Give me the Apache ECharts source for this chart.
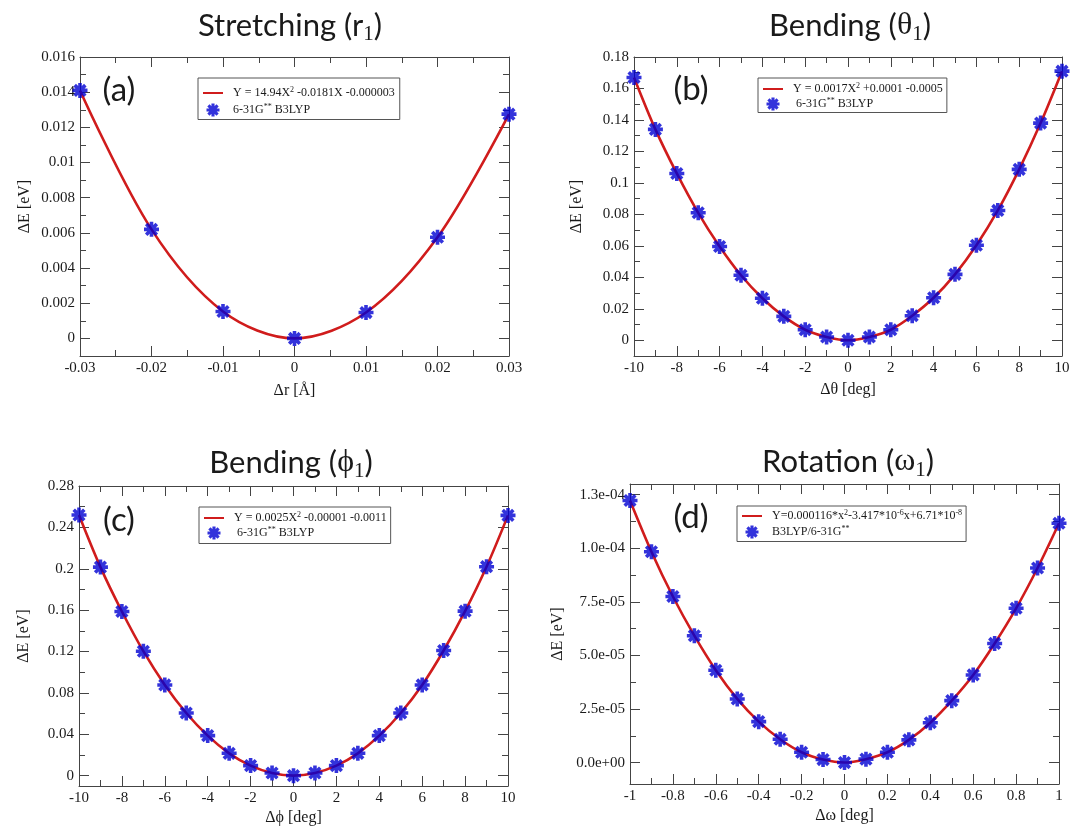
<!DOCTYPE html>
<html><head><meta charset="utf-8">
<script src="https://cdn.jsdelivr.net/npm/echarts@6/dist/echarts.min.js"></script>
<style>html,body{margin:0;padding:0;background:#fff}#c{width:1073px;height:830px}</style>
</head><body><div id="c"></div>
<script>
// ---------- DATA ----------
// (a) Stretching r1
const xA = [-0.03, -0.02, -0.01, 0, 0.01, 0.02, 0.03];
const yA = [0.0141, 0.0062, 0.00153, 0, 0.00147, 0.00575, 0.01275];
const xTicksA = [-0.03, -0.02, -0.01, 0, 0.01, 0.02, 0.03];
const xLabelsA = ['-0.03', '-0.02', '-0.01', '0', '0.01', '0.02', '0.03'];
const xMinorA = [-0.025, -0.015, -0.005, 0.005, 0.015, 0.025];
const yTicksA = [0, 0.002, 0.004, 0.006, 0.008, 0.01, 0.012, 0.014, 0.016];
const yLabelsA = ['0', '0.002', '0.004', '0.006', '0.008', '0.01', '0.012', '0.014', '0.016'];
const yMinorA = [0.001, 0.003, 0.005, 0.007, 0.009, 0.011, 0.013, 0.015];

// (b) Bending theta1
const xB = [-10, -9, -8, -7, -6, -5, -4, -3, -2, -1, 0, 1, 2, 3, 4, 5, 6, 7, 8, 9, 10];
const yB = [0.167, 0.134, 0.106, 0.081, 0.0596, 0.0413, 0.0267, 0.0152, 0.0067, 0.0021, 0,
            0.0021, 0.0067, 0.0156, 0.027, 0.0419, 0.0604, 0.0825, 0.1086, 0.138, 0.171];
const xTicksDeg = [-10, -8, -6, -4, -2, 0, 2, 4, 6, 8, 10];
const xLabelsDeg = ['-10', '-8', '-6', '-4', '-2', '0', '2', '4', '6', '8', '10'];
const xMinorDeg = [-9, -7, -5, -3, -1, 1, 3, 5, 7, 9];
const yTicksB = [0, 0.02, 0.04, 0.06, 0.08, 0.1, 0.12, 0.14, 0.16, 0.18];
const yLabelsB = ['0', '0.02', '0.04', '0.06', '0.08', '0.1', '0.12', '0.14', '0.16', '0.18'];
const yMinorB = [0.01, 0.03, 0.05, 0.07, 0.09, 0.11, 0.13, 0.15, 0.17];

// (c) Bending phi1
const xC = [-10, -9, -8, -7, -6, -5, -4, -3, -2, -1, 0, 1, 2, 3, 4, 5, 6, 7, 8, 9, 10];
const yC = [0.252, 0.2016, 0.1587, 0.1203, 0.0877, 0.0606, 0.0387, 0.0216, 0.0097, 0.0026, 0,
            0.0026, 0.0097, 0.0216, 0.0387, 0.0606, 0.0877, 0.121, 0.159, 0.202, 0.2516];
const yTicksC = [0, 0.04, 0.08, 0.12, 0.16, 0.2, 0.24, 0.28];
const yLabelsC = ['0', '0.04', '0.08', '0.12', '0.16', '0.2', '0.24', '0.28'];
const yMinorC = [0.02, 0.06, 0.1, 0.14, 0.18, 0.22, 0.26];

// (d) Rotation omega1
const xD = [-1, -0.9, -0.8, -0.7, -0.6, -0.5, -0.4, -0.3, -0.2, -0.1, 0, 0.1, 0.2, 0.3, 0.4, 0.5, 0.6, 0.7, 0.8, 0.9, 1];
const yD = [1.223e-4, 9.84e-5, 7.75e-5, 5.92e-5, 4.31e-5, 2.97e-5, 1.91e-5, 1.09e-5, 4.8e-6, 1.4e-6, 0,
            1.6e-6, 4.8e-6, 1.06e-5, 1.86e-5, 2.89e-5, 4.09e-5, 5.56e-5, 7.2e-5, 9.08e-5, 1.117e-4];
const xTicksD = [-1, -0.8, -0.6, -0.4, -0.2, 0, 0.2, 0.4, 0.6, 0.8, 1];
const xLabelsD = ['-1', '-0.8', '-0.6', '-0.4', '-0.2', '0', '0.2', '0.4', '0.6', '0.8', '1'];
const xMinorD = [-0.9, -0.7, -0.5, -0.3, -0.1, 0.1, 0.3, 0.5, 0.7, 0.9];
const yTicksD = [0, 2.5e-5, 5e-5, 7.5e-5, 1e-4, 1.25e-4];
const yLabelsD = ['0.0e+00', '2.5e-05', '5.0e-05', '7.5e-05', '1.0e-04', '1.3e-04'];
const yMinorD = [1.25e-5, 3.75e-5, 6.25e-5, 8.75e-5, 1.125e-4];

// ---------- STYLE ----------
const SERIF = "'Liberation Serif', 'DejaVu Serif', serif";
const SANS = "Lato, 'Open Sans', sans-serif";
const AXC = '#444';
const TXT = '#1a1a1a';
const RED = '#d01c1c';
const BLUE = '#0000d2';
const STAR = 'path://M-1,-0.24L1,-0.24L1,0.24L-1,0.24Z M-0.24,-1L0.24,-1L0.24,1L-0.24,1Z M-0.537,-0.877L0.877,0.537L0.537,0.877L-0.877,-0.537Z M-0.877,0.537L0.537,-0.877L0.877,-0.537L-0.537,0.877Z';

const panels = [
  { grid: {left: 80, top: 57, width: 429, height: 299},
    x: {min: -0.03, max: 0.03, major: xTicksA, labels: xLabelsA, minor: xMinorA, name: 'Δr [Å]', nameGap: 27},
    y: {min: -0.001, max: 0.016, major: yTicksA, labels: yLabelsA, minor: yMinorA, name: 'ΔE [eV]', nameGap: 47},
    xs: xA, ys: yA, fitName: 'fitA', ptName: 'ptsA',
    fitText: '{n|Y = 14.94X}{sup|2}{n| -0.0181X -0.000003}', ptText: '{n|6-31G}{sup|**}{n| B3LYP}',
    legend: {left: 198, top: 78, padding: [8, 5, 3, 4], itemGap: 4},
    title: {x: 290, y: 26, text: '{t|Stretching (r}{s|1}{t|)}'}, letter: {x: 119, y: 90, text: '(a)'} },
  { grid: {left: 634, top: 57, width: 428, height: 299},
    x: {min: -10, max: 10, major: xTicksDeg, labels: xLabelsDeg, minor: xMinorDeg, name: 'Δθ [deg]', nameGap: 26},
    y: {min: -0.01, max: 0.18, major: yTicksB, labels: yLabelsB, minor: yMinorB, name: 'ΔE [eV]', nameGap: 49},
    xs: xB, ys: yB, fitName: 'fitB', ptName: 'ptsB',
    fitText: '{n|Y = 0.0017X}{sup|2}{n| +0.0001 -0.0005}', ptText: '{np|6-31G}{sup|**}{n| B3LYP}',
    legend: {left: 758, top: 78, padding: [4, 4, 2, 4], itemGap: 2},
    title: {x: 850, y: 26, text: '{t|Bending (}{g|θ}{s|1}{t|)}'}, letter: {x: 691, y: 89, text: '(b)'} },
  { grid: {left: 79, top: 486, width: 429, height: 300},
    x: {min: -10, max: 10, major: xTicksDeg, labels: xLabelsDeg, minor: xMinorDeg, name: 'Δϕ [deg]', nameGap: 24},
    y: {min: -0.01, max: 0.28, major: yTicksC, labels: yLabelsC, minor: yMinorC, name: 'ΔE [eV]', nameGap: 47},
    xs: xC, ys: yC, fitName: 'fitC', ptName: 'ptsC',
    fitText: '{n|Y = 0.0025X}{sup|2}{n| -0.00001 -0.0011}', ptText: '{np|6-31G}{sup|**}{n| B3LYP}',
    legend: {left: 199, top: 507, padding: [4, 4, 4, 4], itemGap: 2},
    title: {x: 291, y: 463, text: '{t|Bending (}{g|ϕ}{s|1}{t|)}'}, letter: {x: 119, y: 520, text: '(c)'} },
  { grid: {left: 630, top: 484, width: 429, height: 300},
    x: {min: -1, max: 1, major: xTicksD, labels: xLabelsD, minor: xMinorD, name: 'Δω [deg]', nameGap: 24},
    y: {min: -1e-5, max: 1.3e-4, major: yTicksD, labels: yLabelsD, minor: yMinorD, name: 'ΔE [eV]', nameGap: 64},
    xs: xD, ys: yD, fitName: 'fitD', ptName: 'ptsD',
    fitText: '{n|Y=0.000116*x}{sup|2}{n|-3.417*10}{sup|-6}{n|x+6.71*10}{sup|-8}', ptText: '{n|B3LYP/6-31G}{sup|**}',
    legend: {left: 737, top: 506, padding: [3, 4, 3, 4], itemGap: 3},
    title: {x: 848, y: 462, text: '{t|Rotation (}{g|ω}{s|1}{t|)}'}, letter: {x: 691, y: 517, text: '(d)'} }
];

function makeAxes(dim, gi, a) {
  const pos = dim === 'x' ? ['bottom', 'top'] : ['left', 'right'];
  const tol = (a.max - a.min) * 1e-6;
  const fmt = v => { const k = a.major.findIndex(m => Math.abs(m - v) <= tol); return k >= 0 ? a.labels[k] : ''; };
  const common = {type: 'value', gridIndex: gi, min: a.min, max: a.max,
    splitLine: {show: false}, splitArea: {show: false}, minorTick: {show: false}, silent: true};
  const line = {show: true, onZero: false, lineStyle: {color: AXC, width: 1}};
  const noLine = {show: false, onZero: false};
  const tick = (vals, len) => ({show: true, inside: true, length: len, customValues: vals, lineStyle: {color: AXC, width: 1}});
  return [
    Object.assign({}, common, {position: pos[0], axisLine: line, axisTick: tick(a.major, 10),
      axisLabel: {show: true, customValues: a.major, formatter: fmt, margin: 5, fontFamily: SERIF, fontSize: 15, color: TXT},
      name: a.name, nameLocation: 'middle', nameGap: a.nameGap,
      nameTextStyle: {fontFamily: SERIF, fontSize: 16, color: TXT}}),
    Object.assign({}, common, {position: pos[0], axisLine: noLine, axisTick: tick(a.minor, 6), axisLabel: {show: false}}),
    Object.assign({}, common, {position: pos[1], axisLine: line, axisTick: tick(a.major, 10), axisLabel: {show: false}}),
    Object.assign({}, common, {position: pos[1], axisLine: noLine, axisTick: tick(a.minor, 6), axisLabel: {show: false}})
  ];
}

const option = {animation: false, backgroundColor: '#fff', grid: [], xAxis: [], yAxis: [], series: [], legend: [], graphic: []};
const titleRich = {
  t: {fontFamily: SANS, fontSize: 31, lineHeight: 38, color: TXT, fill: TXT},
  g: {fontFamily: SERIF, fontSize: 32, lineHeight: 38, color: TXT, fill: TXT},
  s: {fontFamily: SERIF, fontSize: 21, lineHeight: 19, verticalAlign: 'bottom', color: TXT, fill: TXT}
};
panels.forEach((p, gi) => {
  option.grid.push(Object.assign({containLabel: false}, p.grid));
  const xi = option.xAxis.length;
  option.xAxis.push(...makeAxes('x', gi, p.x));
  const yi = option.yAxis.length;
  option.yAxis.push(...makeAxes('y', gi, p.y));
  const pts = p.xs.map((v, i) => [v, p.ys[i]]);
  option.series.push({type: 'line', name: p.fitName, xAxisIndex: xi, yAxisIndex: yi, data: pts,
    smooth: 0.33, symbol: 'none', lineStyle: {color: RED, width: 2.6}, itemStyle: {color: RED}, z: 3, silent: true});
  option.series.push({type: 'scatter', name: p.ptName, xAxisIndex: xi, yAxisIndex: yi, data: pts,
    symbol: STAR, symbolSize: 15, itemStyle: {color: BLUE}, clip: false, z: 4, silent: true});
  const rich = {
    n: {fontFamily: SERIF, fontSize: 12, lineHeight: 14, color: TXT},
    np: {fontFamily: SERIF, fontSize: 12, lineHeight: 14, color: TXT, padding: [0, 0, 0, 3]},
    sup: {fontFamily: SERIF, fontSize: 8, lineHeight: 6, verticalAlign: 'top', color: TXT}
  };
  option.legend.push({show: true, orient: 'vertical', left: p.legend.left, top: p.legend.top,
    data: [{name: p.fitName, itemStyle: {opacity: 0}}, {name: p.ptName}],
    itemWidth: 20, itemHeight: 13, itemGap: p.legend.itemGap,
    padding: p.legend.padding, borderColor: '#555', borderWidth: 1, borderRadius: 0, backgroundColor: '#fff',
    selectedMode: false, z: 5,
    formatter: n => (n === p.fitName ? p.fitText : p.ptText),
    textStyle: {fontFamily: SERIF, fontSize: 12, color: TXT, padding: [0, 0, 0, 5], rich: rich}});
  option.graphic.push({type: 'text', x: p.title.x, y: p.title.y, silent: true,
    style: {text: p.title.text, rich: titleRich, align: 'center', verticalAlign: 'middle',
      textAlign: 'center', textVerticalAlign: 'middle', fill: TXT}});
  option.graphic.push({type: 'text', x: p.letter.x, y: p.letter.y, silent: true,
    style: {text: p.letter.text, font: '33px ' + SANS, fill: TXT, align: 'center', verticalAlign: 'middle',
      textAlign: 'center', textVerticalAlign: 'middle'}});
});

const chart = echarts.init(document.getElementById('c'), null, {renderer: 'canvas'});
chart.setOption(option);
</script>
</body></html>
